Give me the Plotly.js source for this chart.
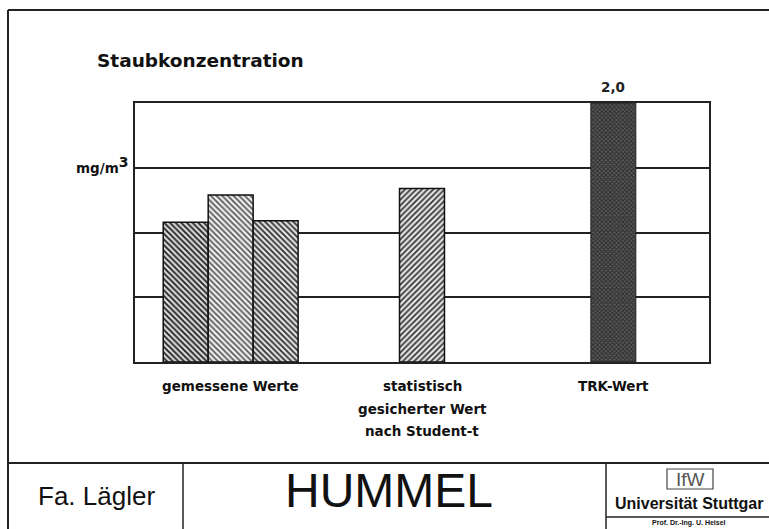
<!DOCTYPE html>
<html><head><meta charset="utf-8">
<script src="https://cdn.plot.ly/plotly-3.0.1.min.js"></script>
<style>html,body{margin:0;padding:0;background:#fff}#chart{width:769px;height:529px}</style>
</head><body><div id="chart"></div>
<script>
// ---- data ----
const categories = ['gemessene Werte', 'statistisch<br>gesicherter Wert<br>nach Student-t', 'TRK-Wert'];
const measuredValues = [1.08, 1.29, 1.09];
const studentValue = [1.34];
const trkValue = [2.0];
const gridValues = [0.5, 1.0, 1.5];

// ---- layout helpers ----
const L = 135, R = 709, T = 103, B = 362, W = 769, H = 529;
const px = x => (x - L) / (R - L);
const py = y => (B - y) / (B - T);
const FONT = 'Liberation Sans, Arial, sans-serif';
const DJ = 'DejaVu Sans, sans-serif';
const bw = 0.235;

const measuredStyles = [
  {shape: '\\', fg: '#1e1e1e', bg: '#d8d8d8', size: 4, sol: 0.45},
  {shape: '\\', fg: '#555555', bg: '#ededed', size: 4, sol: 0.4},
  {shape: '\\', fg: '#2a2a2a', bg: '#e2e2e2', size: 4, sol: 0.42}
];

const traces = measuredValues.map((v, i) => ({
  type: 'bar', x: [categories[0]], y: [v],
  width: bw, offset: -1.5 * bw + i * bw,
  marker: {color: measuredStyles[i].bg,
    pattern: {shape: measuredStyles[i].shape, fgcolor: measuredStyles[i].fg, bgcolor: measuredStyles[i].bg, size: measuredStyles[i].size, solidity: measuredStyles[i].sol},
    line: {color: '#111', width: 1.5}},
  showlegend: false
}));

traces.push({
  type: 'bar', x: [categories[1]], y: studentValue,
  width: bw, offset: -0.5 * bw,
  marker: {color: '#e0e0e0',
    pattern: {shape: '/', fgcolor: '#333', bgcolor: '#e4e4e4', size: 4, solidity: 0.42},
    line: {color: '#111', width: 1.5}},
  showlegend: false
});

traces.push({
  type: 'bar', x: [categories[2]], y: trkValue,
  width: bw, offset: -0.5 * bw,
  marker: {color: '#3c3c3c',
    pattern: {shape: 'x', fgcolor: '#2a2a2a', bgcolor: '#5a5a5a', size: 3, solidity: 0.5},
    line: {color: '#222', width: 1}},
  showlegend: false
});

const line = (x0, y0, x1, y1, w) => ({type: 'line', xref: 'paper', yref: 'paper',
  x0: px(x0), y0: py(y0), x1: px(x1), y1: py(y1), line: {color: '#222', width: w || 1.5}, layer: 'above'});

const shapes = [
  line(8, 10, 769, 10, 2),
  line(8, 10, 8, 529, 2),
  line(8, 463, 769, 463, 2),
  line(183, 463, 183, 529, 1.5),
  line(606, 463, 606, 529, 1.5),
  line(606, 517, 769, 517, 1.5),
  {type: 'rect', xref: 'paper', yref: 'paper', x0: px(667), y0: py(469), x1: px(713), y1: py(489), line: {color: '#444', width: 1.2}, fillcolor: 'rgba(0,0,0,0)'}
];

const ann = (x, y, text, size, opts) => Object.assign({xref: 'paper', yref: 'paper', x: px(x), y: py(y), text: text,
  showarrow: false, xanchor: 'center', yanchor: 'middle', font: {family: FONT, size: size, color: '#111'}}, opts || {});

const annotations = [
  ann(95, 60, '<b>Staubkonzentration</b>', 18, {xanchor: 'left', font: {family: DJ, size: 18.5, color: '#111'}}),
  ann(102, 165, '<b>mg/m<sup><span style="font-size:14px">3</span></sup></b>', 13.5, {font: {family: DJ, size: 13.5, color: '#111'}}),
  ann(96, 496, 'Fa. Lägler', 26),
  ann(389, 490, 'HUMMEL', 48),
  ann(690, 479, 'IfW', 18, {font: {family: FONT, size: 19, color: '#555'}}),
  ann(689, 503, '<b>Universität Stuttgar</b>', 16),
  ann(689, 523, '<b>Prof. Dr.-Ing. U. Heisel</b>', 7)
];

// value label above TRK bar, placed at the bar's data coordinates
annotations.push({xref: 'x', yref: 'y', x: categories[2], y: trkValue[0], yshift: 16,
  text: '<b>' + trkValue[0].toFixed(1).replace('.', ',') + '</b>', showarrow: false,
  font: {family: DJ, size: 13.5, color: '#222'}});

// category labels (one annotation per line for the wider line spacing of the original)
categories.forEach(c => {
  c.split('<br>').forEach((ln, j) => {
    annotations.push({xref: 'x', yref: 'paper', x: c, y: py(386 + j * 22.5), yanchor: 'middle',
      text: '<b>' + ln + '</b>', showarrow: false, font: {family: DJ, size: 13.5, color: '#111'}});
  });
});

const layout = {
  width: W, height: H,
  margin: {l: L, r: W - R, t: T, b: H - B, pad: 0},
  paper_bgcolor: '#fff', plot_bgcolor: '#fff',
  barmode: 'overlay',
  separators: ',.',
  xaxis: {type: 'category', categoryorder: 'array', categoryarray: categories,
    range: [-0.5, 2.5], showgrid: false, showline: true, mirror: true, linecolor: '#222', linewidth: 2,
    ticks: '', showticklabels: false, fixedrange: true},
  yaxis: {range: [0, 2], tickvals: gridValues, showticklabels: false, showgrid: true, gridcolor: '#222', gridwidth: 2,
    showline: true, mirror: true, linecolor: '#222', linewidth: 2, zeroline: false, ticks: '', fixedrange: true},
  shapes: shapes, annotations: annotations,
  font: {family: FONT}
};

Plotly.newPlot('chart', traces, layout, {displayModeBar: false, staticPlot: true});
</script></body></html>
